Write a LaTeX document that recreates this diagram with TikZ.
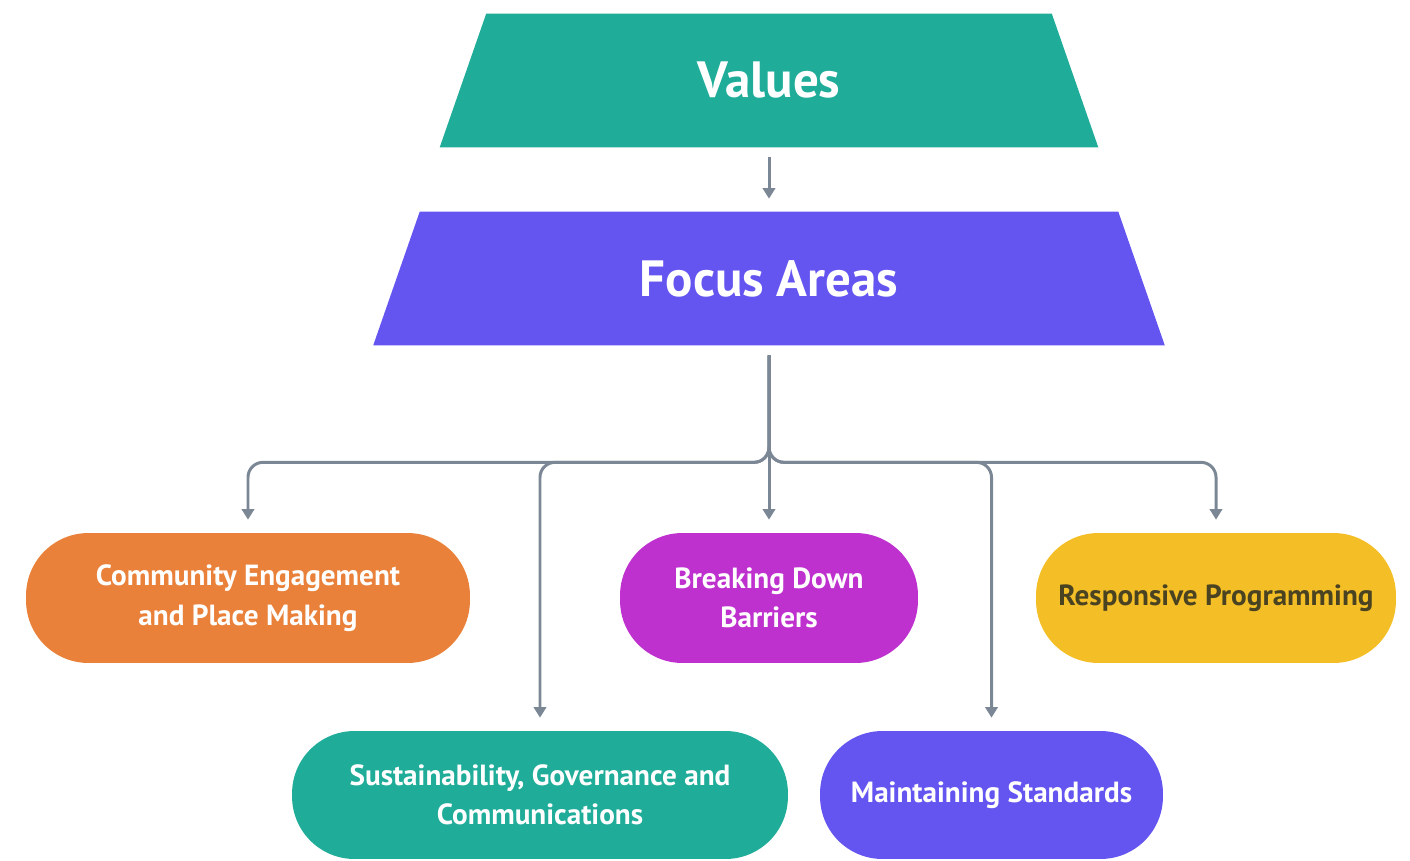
\documentclass[tikz,border=0pt]{standalone}
\usepackage{fontspec}
\setmainfont{PT Sans}
\usepackage{tikz}
\usetikzlibrary{positioning, shapes, arrows.meta, backgrounds}
\usepackage{xcolor}
\definecolor{valteal}{HTML}{1FAD9A}
\definecolor{focpurple}{HTML}{6455F1}
\definecolor{comorange}{HTML}{E9813A}
\definecolor{brkmagenta}{HTML}{BF31CF}
\definecolor{resyellow}{HTML}{F4BE26}
\definecolor{restext}{HTML}{4A4322}
\definecolor{linkgray}{HTML}{7B8794}

\begin{document}
\begin{tikzpicture}[x=0.02cm, y=-0.02cm,
	level/.style={rectangle, minimum height=2.66cm, inner sep=0pt, text=white,
		font=\fontsize{29}{34}\selectfont\bfseries},
	area/.style={rectangle, rounded corners=1.25cm, minimum height=2.6cm,
		inner sep=0pt, align=center, text=white,
		font=\fontsize{16.6}{22.5}\selectfont\bfseries},
	link/.style={linkgray, line width=1.7pt, rounded corners=0.3cm,
		-{Triangle[length=6pt,width=7pt]},
		shorten <=0.2cm, shorten >=0.26cm}]
	\useasboundingbox (0,0) rectangle (1410,861);
	% Levels
	\node[level, minimum width=13.16cm] (values) at (769,80.5) {Values};
	\node[level, minimum width=15.82cm] (focus) at (769,278.5) {Focus Areas};
	\begin{scope}[on background layer]
		\fill[valteal] (values.south west) -- (values.south east)
		-- ([xshift=-0.93cm]values.north east) -- ([xshift=0.93cm]values.north west) -- cycle;
		\fill[focpurple] (focus.south west) -- (focus.south east)
		-- ([xshift=-0.93cm]focus.north east) -- ([xshift=0.93cm]focus.north west) -- cycle;
	\end{scope}
	% Focus areas, top row
	\node[area, fill=comorange, minimum width=8.88cm] (comm) at (248,598)
	{Community Engagement\\and Place Making};
	\node[area, fill=brkmagenta, minimum width=5.96cm] (brk) at (769,598)
	{Breaking Down\\Barriers};
	\node[area, fill=resyellow, minimum width=7.2cm, text=restext] (resp) at (1216,598)
	{Responsive Programming};
	% Focus areas, bottom row
	\node[area, fill=valteal, minimum width=9.92cm, minimum height=2.56cm] (sust) at (540,795)
	{Sustainability, Governance and\\Communications};
	\node[area, fill=focpurple, minimum width=6.86cm, minimum height=2.56cm] (maint) at (991.5,795)
	{Maintaining Standards};
	% Connectors
	\draw[link] (values) -- (focus);
	\draw[link] (focus.south) -- ++(0,117) -| (comm.north);
	\draw[link] (focus.south) -- ++(0,117) -| (sust.north);
	\draw[link] (focus.south) -- (brk.north);
	\draw[link] (focus.south) -- ++(0,117) -| (maint.north);
	\draw[link] (focus.south) -- ++(0,117) -| (resp.north);
\end{tikzpicture}
\end{document}
